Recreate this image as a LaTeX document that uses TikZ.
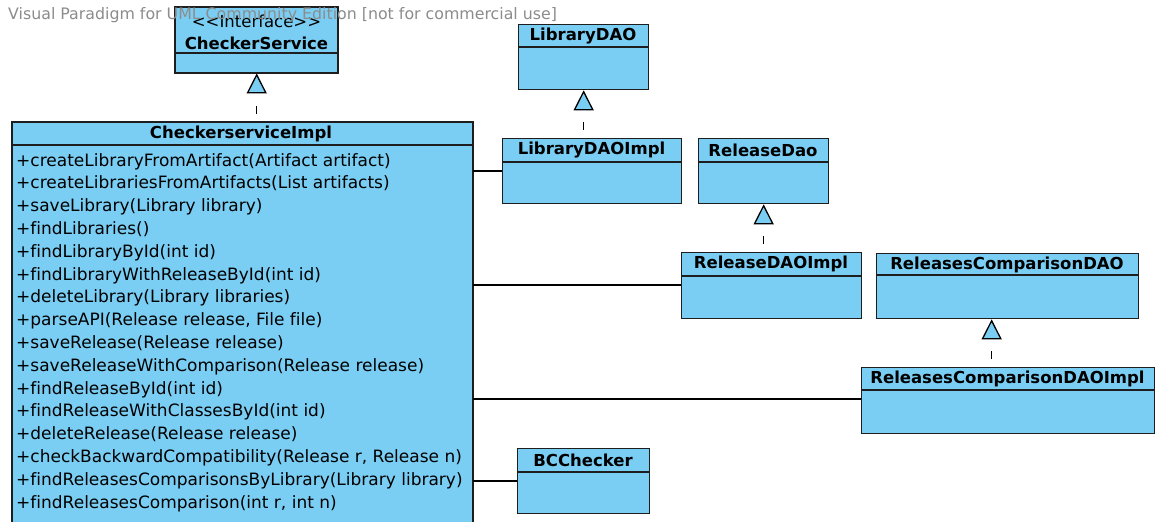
\documentclass[tikz,border=0pt]{standalone}
\usepackage{fontspec}
\setmainfont[Ligatures=NoCommon]{DejaVu Sans}
\usetikzlibrary{arrows.meta}
\definecolor{umlfill}{RGB}{122,206,244}
\definecolor{umlline}{RGB}{30,30,30}
\definecolor{wmgray}{RGB}{140,140,140}
\tikzset{
  clsbox/.style={draw=umlline, fill=umlfill, line width=1.3pt, rectangle, inner sep=0pt},
  clsname/.style={font=\bfseries\fontsize{16.5}{16.5}\selectfont, inner sep=0pt, text=black},
  stereo/.style={font=\fontsize{16.5}{16.5}\selectfont, inner sep=0pt},
  method/.style={anchor=base west, font=\fontsize{17}{17}\selectfont, inner sep=0pt},
  divider/.style={draw=umlline, line width=1.3pt},
  assoc/.style={draw=black, line width=1.3pt},
  realize/.style={draw=black, line width=1.3pt, dash pattern=on 8pt off 20pt, dash phase=20pt,
    -{Triangle[length=20pt, width=20pt, fill=umlfill, line width=1.3pt]}},
  watermark/.style={font=\fontsize{15.8}{15.8}\selectfont, text=wmgray, inner sep=0pt, anchor=west}
}
\begin{document}
\begin{tikzpicture}[x=1pt, y=-1pt]
\useasboundingbox (0,0) rectangle (1157,522);
\clip (0,0) rectangle (1157,522);
\fill[white] (0,0) rectangle (1157,522);

% CheckerService (interface)
\path[clsbox] (175,7) rectangle (338,73);
\node[inner sep=0pt, minimum width=163pt, minimum height=66pt, anchor=north west] (iface) at (175,7) {};
\draw[divider] (175,53) -- (338,53);
\node[stereo] (ifacest) at (256.5,21) {{<}{<}Interface{>}{>}};
\node[clsname] (ifacename) at (256.5,43) {CheckerService};

% CheckerserviceImpl
\path[clsbox] (12,122) rectangle (473,560);
\node[inner sep=0pt, minimum width=461pt, minimum height=438pt, anchor=north west] (impl) at (12,122) {};
\draw[divider] (12,145) -- (473,145);
\node[clsname] (implname) at (241,134) {CheckerserviceImpl};
\foreach [count=\i] \t in {
  {+createLibraryFromArtifact(Artifact artifact)},
  {+createLibrariesFromArtifacts(List artifacts)},
  {+saveLibrary(Library library)},
  {+findLibraries()},
  {+findLibraryById(int id)},
  {+findLibraryWithReleaseById(int id)},
  {+deleteLibrary(Library libraries)},
  {+parseAPI(Release release, File file)},
  {+saveRelease(Release release)},
  {+saveReleaseWithComparison(Release release)},
  {+findReleaseById(int id)},
  {+findReleaseWithClassesById(int id)},
  {+deleteRelease(Release release)},
  {+checkBackwardCompatibility(Release r, Release n)},
  {+findReleasesComparisonsByLibrary(Library library)},
  {+findReleasesComparison(int r, int n)}}
  \node[method] (m\i) at (16,{166+22.8*(\i-1)}) {\t};

% LibraryDAO
\node[clsbox, minimum width=130pt, minimum height=65pt, anchor=north west] (libdao) at (518,24) {};
\draw[divider] (518,47) -- (648,47);
\node[clsname] (libdaoname) at (583,36) {LibraryDAO};

% LibraryDAOImpl
\node[clsbox, minimum width=179pt, minimum height=65pt, anchor=north west] (libimpl) at (502,138) {};
\draw[divider] (502,162) -- (681,162);
\node[clsname] (libimplname) at (591.5,150) {LibraryDAOImpl};

% ReleaseDao
\node[clsbox, minimum width=130pt, minimum height=65pt, anchor=north west] (reldao) at (698,138) {};
\draw[divider] (698,162) -- (828,162);
\node[clsname] (reldaoname) at (763,150) {ReleaseDao};

% ReleaseDAOImpl
\node[clsbox, minimum width=180pt, minimum height=66pt, anchor=north west] (relimpl) at (681,252) {};
\draw[divider] (681,276) -- (861,276);
\node[clsname] (relimplname) at (771,264) {ReleaseDAOImpl};

% ReleasesComparisonDAO
\node[clsbox, minimum width=262pt, minimum height=65pt, anchor=north west] (rcdao) at (876,253) {};
\draw[divider] (876,275) -- (1138,275);
\node[clsname] (rcdaoname) at (1007,264.5) {ReleasesComparisonDAO};

% ReleasesComparisonDAOImpl
\node[clsbox, minimum width=293pt, minimum height=66pt, anchor=north west] (rcimpl) at (861,367) {};
\draw[divider] (861,390) -- (1154,390);
\node[clsname] (rcimplname) at (1007.5,379) {ReleasesComparisonDAOImpl};

% BCChecker
\node[clsbox, minimum width=132pt, minimum height=65pt, anchor=north west] (bcc) at (517,448) {};
\draw[divider] (517,472) -- (649,472);
\node[clsname] (bccname) at (583,460) {BCChecker};

% realizations
\draw[realize] (impl.north -| iface.south) -- (iface.south);
\draw[realize] (libimpl.north -| libdao.south) -- (libdao.south);
\draw[realize] (relimpl.north -| reldao.south) -- (reldao.south);
\coordinate (rctip) at ([xshift=-16pt]rcdao.south);
\draw[realize] (rcimpl.north -| rctip) -- (rctip);

% associations
\coordinate (a1) at (0,171);
\coordinate (a2) at (0,285);
\coordinate (a3) at (0,399);
\coordinate (a4) at (0,481);
\draw[assoc] (impl.east |- a1) -- (libimpl.west |- a1);
\draw[assoc] (impl.east |- a2) -- (relimpl.west |- a2);
\draw[assoc] (impl.east |- a3) -- (rcimpl.west |- a3);
\draw[assoc] (impl.east |- a4) -- (bcc.west |- a4);

% watermark
\node[watermark] (wm) at (8,15) {Visual Paradigm for UML Community Edition [not for commercial use]};
\end{tikzpicture}
\end{document}
